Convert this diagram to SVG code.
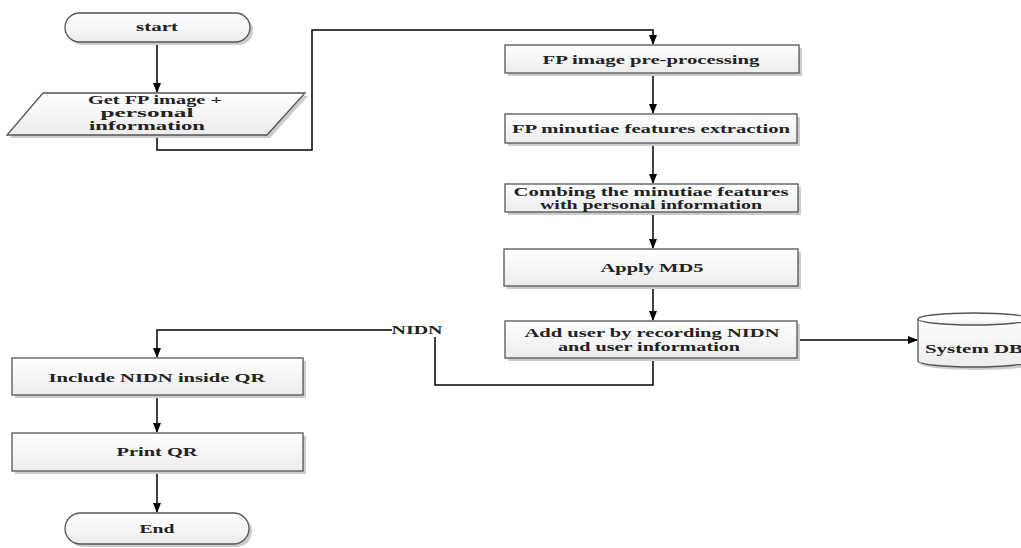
<svg xmlns="http://www.w3.org/2000/svg" width="1021" height="548" viewBox="0 0 1021 548">
<defs>
<linearGradient id="g" x1="0" y1="0" x2="0" y2="1">
<stop offset="0" stop-color="#ffffff"/>
<stop offset="1" stop-color="#ececec"/>
</linearGradient>
<marker id="ah" markerWidth="10" markerHeight="8" refX="9" refY="4" orient="auto" markerUnits="userSpaceOnUse">
<path d="M0,0 L10,4 L0,8 Z" fill="#000"/>
</marker>
</defs>
<style>
.shape{fill:url(#g);stroke:#555;stroke-width:1.3}
.shadow{fill:#cccccc;stroke:none}
.t{font-family:"Liberation Serif","Times New Roman",serif;font-weight:bold;font-size:13.5px;fill:#222;text-anchor:middle}
.s{font-size:12.5px}
.c{fill:none;stroke:#000;stroke-width:1.5}
</style>
<rect width="1021" height="548" fill="#fff"/>

<g id="connectors">
<path class="c" d="M157,42 V92" marker-end="url(#ah)"/>
<path class="c" d="M157,135 V150 H312 V30 H653 V44" marker-end="url(#ah)"/>
<path class="c" d="M653,73 V113" marker-end="url(#ah)"/>
<path class="c" d="M653,143 V183" marker-end="url(#ah)"/>
<path class="c" d="M653,212 V248" marker-end="url(#ah)"/>
<path class="c" d="M653,286 V320" marker-end="url(#ah)"/>
<path class="c" d="M797,340 H917" marker-end="url(#ah)"/>
<path class="c" d="M653,358 V385 H435 V337"/>
<path class="c" d="M392,330 H157 V357" marker-end="url(#ah)"/>
<text class="t" x="417" y="334" textLength="51" lengthAdjust="spacingAndGlyphs">NIDN</text>
<path class="c" d="M157,395 V432" marker-end="url(#ah)"/>
<path class="c" d="M157,471 V512" marker-end="url(#ah)"/>
</g>

<g id="start">
<rect class="shadow" x="68" y="16" width="185" height="29" rx="14.5"/>
<rect class="shape" x="65" y="13" width="185" height="29" rx="14.5"/>
<text class="t" x="157" y="31" textLength="42" lengthAdjust="spacingAndGlyphs">start</text>
</g>

<g id="input">
<polygon class="shadow" points="46,96 308,96 270,138 10,138"/>
<polygon class="shape" points="43,93 305,93 267,135 7,135"/>
<text class="t s" x="155" y="104" textLength="134" lengthAdjust="spacingAndGlyphs">Get FP image +</text>
<text class="t s" x="147" y="117" textLength="93" lengthAdjust="spacingAndGlyphs">personal</text>
<text class="t s" x="147" y="130" textLength="116" lengthAdjust="spacingAndGlyphs">information</text>
</g>

<g id="preprocess">
<rect class="shadow" x="508" y="48" width="294" height="28"/>
<rect class="shape" x="505" y="45" width="294" height="28"/>
<text class="t" x="651" y="64" textLength="217" lengthAdjust="spacingAndGlyphs">FP image pre-processing</text>
</g>

<g id="extract">
<rect class="shadow" x="508" y="117" width="292" height="29"/>
<rect class="shape" x="505" y="114" width="292" height="29"/>
<text class="t" x="651" y="133" textLength="278" lengthAdjust="spacingAndGlyphs">FP minutiae features extraction</text>
</g>

<g id="combine">
<rect class="shadow" x="508" y="187" width="293" height="28"/>
<rect class="shape" x="505" y="184" width="293" height="28"/>
<text class="t s" x="651" y="195.5" textLength="275" lengthAdjust="spacingAndGlyphs">Combing the minutiae features</text>
<text class="t s" x="651" y="208.5" textLength="222" lengthAdjust="spacingAndGlyphs">with personal information</text>
</g>

<g id="md5">
<rect class="shadow" x="507" y="252" width="294" height="37"/>
<rect class="shape" x="504" y="249" width="294" height="37"/>
<text class="t" x="652" y="272" textLength="103" lengthAdjust="spacingAndGlyphs">Apply MD5</text>
</g>

<g id="adduser">
<rect class="shadow" x="508" y="324" width="292" height="37"/>
<rect class="shape" x="505" y="321" width="292" height="37"/>
<text class="t" x="652" y="337" textLength="255" lengthAdjust="spacingAndGlyphs">Add user by recording NIDN</text>
<text class="t" x="649" y="351" textLength="182" lengthAdjust="spacingAndGlyphs">and user information</text>
</g>

<g id="systemdb">
<path class="shadow" d="M921,322 A56,6 0 0 1 1033,322 V364 A56,6 0 0 1 921,364 Z"/>
<path class="shape" d="M918,319 A56,6 0 0 1 1030,319 V361 A56,6 0 0 1 918,361 Z"/>
<path class="shape" d="M918,319 A56,6 0 0 0 1030,319" fill="none"/>
<text class="t" x="974" y="353" textLength="98" lengthAdjust="spacingAndGlyphs">System DB</text>
</g>

<g id="include">
<rect class="shadow" x="15" y="361" width="291" height="37"/>
<rect class="shape" x="12" y="358" width="291" height="37"/>
<text class="t" x="157" y="382" textLength="217" lengthAdjust="spacingAndGlyphs">Include NIDN inside QR</text>
</g>

<g id="print">
<rect class="shadow" x="15" y="436" width="291" height="38"/>
<rect class="shape" x="12" y="433" width="291" height="38"/>
<text class="t" x="157" y="456" textLength="81" lengthAdjust="spacingAndGlyphs">Print QR</text>
</g>

<g id="end">
<rect class="shadow" x="68" y="516" width="184" height="31" rx="15.5"/>
<rect class="shape" x="65" y="513" width="184" height="31" rx="15.5"/>
<text class="t" x="157" y="533" textLength="35" lengthAdjust="spacingAndGlyphs">End</text>
</g>
</svg>
